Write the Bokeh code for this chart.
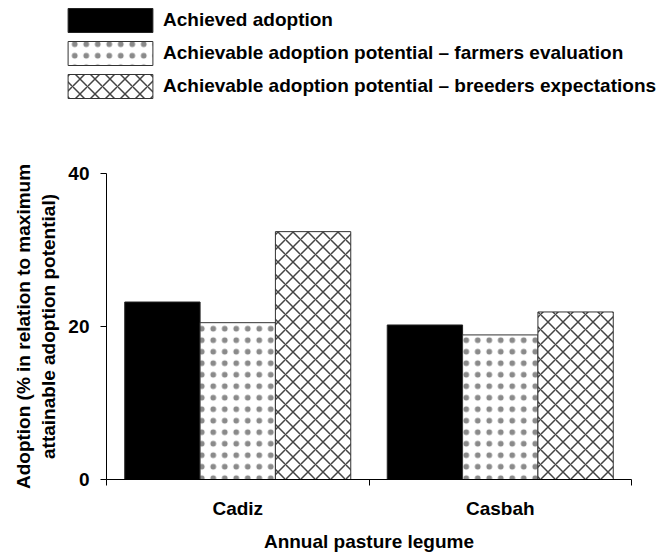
from bokeh.plotting import figure
from bokeh.models import FixedTicker, Legend, LegendItem, ColumnDataSource
from bokeh.embed import file_html
from bokeh.resources import INLINE

# ---- data ----
cultivars = ["Cadiz", "Casbah"]
achieved = [23.2, 20.2]
farmers = [20.5, 18.9]
breeders = [32.4, 21.9]
series_labels = [
    "Achieved adoption",
    "Achievable adoption potential – farmers evaluation",
    "Achievable adoption potential – breeders expectations",
]
y_ticks = [0, 20, 40]
x_title = "Annual pasture legume"
y_title = "Adoption (% in relation to maximum\nattainable adoption potential)"

FONT = "Liberation Sans"
FS = "19px"

centers = [i + 0.5 for i in range(len(cultivars))]
bar_w = 0.287
offsets = [-bar_w, 0.0, bar_w]

styles = [
    dict(fill_color="black", line_color="#222222"),
    dict(fill_color="white", line_color="#333333", hatch_pattern="dot",
         hatch_color="#8a8a8a", hatch_scale=11.5, hatch_weight=0.1),
    dict(fill_color="white", line_color="#333333", hatch_pattern="diagonal_cross",
         hatch_color="#444444", hatch_scale=15, hatch_weight=1.5),
]

sources = [
    ColumnDataSource(dict(x=[c + off for c in centers], top=vals))
    for vals, off in zip([achieved, farmers, breeders], offsets)
]

LEG_H = 104

# ---- legend strip (own figure; its bars lie below its visible range) ----
lg = figure(
    width=662, height=LEG_H, x_range=(0, len(cultivars)), y_range=(100, 101),
    output_backend="svg", toolbar_location=None,
    min_border_left=0, min_border_right=0, min_border_top=0, min_border_bottom=0,
)
lg.axis.visible = False
lg.grid.visible = False
lg.outline_line_color = None
leg_renderers = [
    lg.vbar(x="x", top="top", width=bar_w, bottom=0, source=s, line_width=1, **st)
    for s, st in zip(sources, styles)
]
legend = Legend(
    items=[LegendItem(label=l, renderers=[r], index=0)
           for l, r in zip(series_labels, leg_renderers)],
    location=(57, 3), orientation="vertical",
    glyph_width=106, glyph_height=30, label_height=30, spacing=3,
    padding=0, margin=0, border_line_color=None, background_fill_alpha=0,
    label_text_font=FONT, label_text_font_style="bold", label_text_font_size=FS,
    label_text_color="black", label_standoff=-2,
)
lg.add_layout(legend)

# ---- main chart ----
p = figure(
    width=662, height=554 - LEG_H,
    x_range=(0, len(cultivars)), y_range=(0, 40),
    output_backend="svg", toolbar_location=None,
    min_border_left=106, min_border_right=31,
    min_border_top=173 - LEG_H, min_border_bottom=73,
)
p.outline_line_color = None
p.xgrid.visible = False
p.ygrid.visible = False

for s, st in zip(sources, styles):
    p.vbar(x="x", top="top", width=bar_w, bottom=0, source=s, line_width=1, **st)

# x axis
xa = p.xaxis[0]
xa.ticker = FixedTicker(ticks=centers, minor_ticks=list(range(len(cultivars) + 1)))
xa.major_label_overrides = {c: n for c, n in zip(centers, cultivars)}
xa.major_tick_out = 0
xa.major_tick_in = 0
xa.minor_tick_out = 6
xa.minor_tick_in = 0
xa.minor_tick_line_color = "black"
xa.axis_line_color = "black"
xa.major_label_text_font = FONT
xa.major_label_text_font_style = "bold"
xa.major_label_text_font_size = FS
xa.major_label_text_color = "black"
xa.major_label_standoff = 12
xa.axis_label = x_title
xa.axis_label_text_font = FONT
xa.axis_label_text_font_style = "bold"
xa.axis_label_text_font_size = FS
xa.axis_label_text_color = "black"
xa.axis_label_standoff = 9

# y axis
ya = p.yaxis[0]
ya.ticker = FixedTicker(ticks=y_ticks)
ya.major_tick_out = 6
ya.major_tick_in = 0
ya.minor_tick_out = 0
ya.minor_tick_in = 0
ya.major_tick_line_color = "black"
ya.axis_line_color = "black"
ya.major_label_text_font = FONT
ya.major_label_text_font_style = "bold"
ya.major_label_text_font_size = FS
ya.major_label_text_color = "black"
ya.major_label_standoff = 11
ya.axis_label = y_title
ya.axis_label_text_font = FONT
ya.axis_label_text_font_style = "bold"
ya.axis_label_text_font_size = FS
ya.axis_label_text_color = "black"
ya.axis_label_standoff = 6

open("out.html", "w").write(file_html([lg, p], INLINE))
